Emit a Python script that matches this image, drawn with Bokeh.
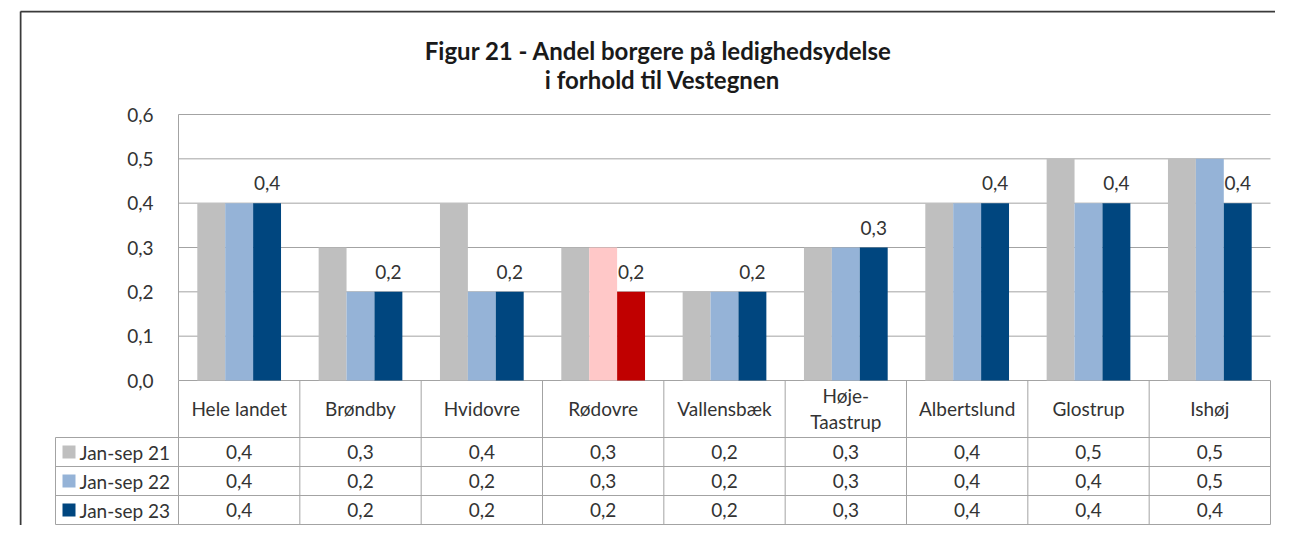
from bokeh.plotting import figure
from bokeh.models import Range1d, LinearAxis, FixedTicker, CustomJSTickFormatter
from bokeh.core.properties import value
from bokeh.embed import file_html
from bokeh.resources import INLINE

# ---------------- data ----------------
categories = ["Hele landet", "Brøndby", "Hvidovre", "Rødovre", "Vallensbæk",
              "Høje-\nTaastrup", "Albertslund", "Glostrup", "Ishøj"]
series_names = ["Jan-sep 21", "Jan-sep 22", "Jan-sep 23"]
jan_sep_21 = [0.4, 0.3, 0.4, 0.3, 0.2, 0.3, 0.4, 0.5, 0.5]
jan_sep_22 = [0.4, 0.2, 0.2, 0.3, 0.2, 0.3, 0.4, 0.4, 0.5]
jan_sep_23 = [0.4, 0.2, 0.2, 0.2, 0.2, 0.3, 0.4, 0.4, 0.4]
y_ticks = [0.0, 0.1, 0.2, 0.3, 0.4, 0.5, 0.6]
title_lines = ["Figur 21 - Andel borgere på ledighedsydelse", "i forhold til Vestegnen"]
series_colors = ["#BFBFBF", "#95B3D7", "#00467F"]
highlight_category = "Rødovre"
highlight_colors = ["#BFBFBF", "#FFC8C8", "#C00000"]

series_values = [jan_sep_21, jan_sep_22, jan_sep_23]


def fmt(v):
    return f"{v:.1f}".replace(".", ",")


# ---------------- layout (pixels from the figure's top-left) ----------------
FONT = "Lato"
TXT = "#333333"
GRID = "#A3A3A3"
W, H = 1275, 525
PLOT_L, PLOT_R = 178, 1270
ZERO_Y, TOP_Y = 380, 114
FRAME_L, FRAME_R, FRAME_T, FRAME_B = 19, W, 10, H
LEG_L = 55
ROW_LINES = [437, 466, 495, 524]
HEADER_MID = 408

ncat = len(categories)
ux = (PLOT_R - PLOT_L) / ncat
uy = (ZERO_Y - TOP_Y) / (y_ticks[-1] - y_ticks[0])


def X(px):
    return (px - PLOT_L) / ux


def Y(py):
    return (ZERO_Y - py) / uy


p = figure(width=W, height=H, output_backend="svg", toolbar_location=None,
           x_range=Range1d(X(FRAME_L), X(FRAME_R)),
           y_range=Range1d(Y(FRAME_B), Y(FRAME_T)),
           x_axis_location=None, y_axis_location=None,
           min_border_left=FRAME_L, min_border_right=W - FRAME_R,
           min_border_top=FRAME_T, min_border_bottom=H - FRAME_B)
p.outline_line_color = None
p.background_fill_color = "white"
p.border_fill_color = "white"
p.xgrid.visible = False
p.ygrid.visible = False

# y axis (labels only), fixed inside frame just left of plot area
yaxis = LinearAxis(fixed_location=X(PLOT_L - 15), bounds=(y_ticks[0], y_ticks[-1]),
                   ticker=FixedTicker(ticks=y_ticks),
                   formatter=CustomJSTickFormatter(code="return tick.toFixed(1).replace('.', ',');"),
                   axis_line_color=None, major_tick_line_color=None, minor_tick_line_color=None,
                   major_label_standoff=4, major_label_text_font=FONT,
                   major_label_text_font_size="19px", major_label_text_color=TXT)
p.add_layout(yaxis, "left")

# outer chart border (left and top edges)
p.segment(x0=[X(FRAME_L + 1), X(FRAME_L + 1)], x1=[X(FRAME_L + 1), X(FRAME_R + 50)],
          y0=[Y(FRAME_B + 50), Y(FRAME_T + 1)], y1=[Y(FRAME_T + 1), Y(FRAME_T + 1)],
          line_color="#3A3A3A", line_width=2)

# gridlines
p.segment(x0=[0] * len(y_ticks), x1=[ncat] * len(y_ticks), y0=y_ticks, y1=y_ticks,
          line_color=GRID, line_width=1)
# plot-area left border
p.segment(x0=[0], x1=[0], y0=[y_ticks[0]], y1=[y_ticks[-1]], line_color=GRID, line_width=1)

# bars
bar_w = 0.23
offsets = [-bar_w, 0, bar_w]
for s, vals in enumerate(series_values):
    cols = [highlight_colors[s] if c == highlight_category else series_colors[s] for c in categories]
    p.vbar(x=[i + 0.5 + offsets[s] for i in range(ncat)], top=vals, bottom=0,
           width=bar_w, fill_color=cols, line_color=None)

# data labels (last series)
p.text(x=[i + 0.5 + offsets[2] for i in range(ncat)], y=jan_sep_23,
       text=[fmt(v) for v in jan_sep_23], y_offset=-20,
       text_align="center", text_baseline="middle",
       text_font=value(FONT), text_font_size="19px", text_color=TXT)

# ---------------- data table ----------------
y_bottom = Y(ROW_LINES[-1])
p.segment(x0=list(range(ncat + 1)), x1=list(range(ncat + 1)),
          y0=[y_bottom] * (ncat + 1), y1=[0] * (ncat + 1), line_color=GRID, line_width=1)
p.segment(x0=[X(LEG_L)], x1=[X(LEG_L)], y0=[Y(ROW_LINES[0])], y1=[y_bottom],
          line_color=GRID, line_width=1)
p.segment(x0=[X(LEG_L)] * len(ROW_LINES), x1=[ncat] * len(ROW_LINES),
          y0=[Y(r) for r in ROW_LINES], y1=[Y(r) for r in ROW_LINES],
          line_color=GRID, line_width=1)

# category header
p.text(x=[i + 0.5 for i in range(ncat)], y=[Y(HEADER_MID)] * ncat, text=categories,
       text_align="center", text_baseline="middle", text_line_height=1.1,
       text_font=value(FONT), text_font_size="19px", text_color=TXT)

# rows
for s, vals in enumerate(series_values):
    yc = Y((ROW_LINES[s] + ROW_LINES[s + 1]) / 2)
    p.text(x=[i + 0.5 for i in range(ncat)], y=[yc] * ncat, text=[fmt(v) for v in vals],
           text_align="center", text_baseline="middle",
           text_font=value(FONT), text_font_size="19px", text_color=TXT)
    p.rect(x=[X(68.5)], y=[yc], width=13, height=13, width_units="screen",
           height_units="screen", fill_color=series_colors[s], line_color=None)
    p.text(x=[X(79)], y=[yc], text=[series_names[s]], text_align="left",
           text_baseline="middle", text_font=value(FONT), text_font_size="19px",
           text_color=TXT)

# title
p.text(x=[X(658)], y=[Y(50)], text=[title_lines[0]], text_align="center",
       text_baseline="alphabetic", text_font=value(FONT), text_font_size="24px",
       text_font_style="bold", text_color="#1A1A1A")
p.text(x=[X(662)], y=[Y(79)], text=[title_lines[1]], text_align="center",
       text_baseline="alphabetic", text_font=value(FONT), text_font_size="24px",
       text_font_style="bold", text_color="#1A1A1A")

open("out.html", "w").write(file_html(p, INLINE))
